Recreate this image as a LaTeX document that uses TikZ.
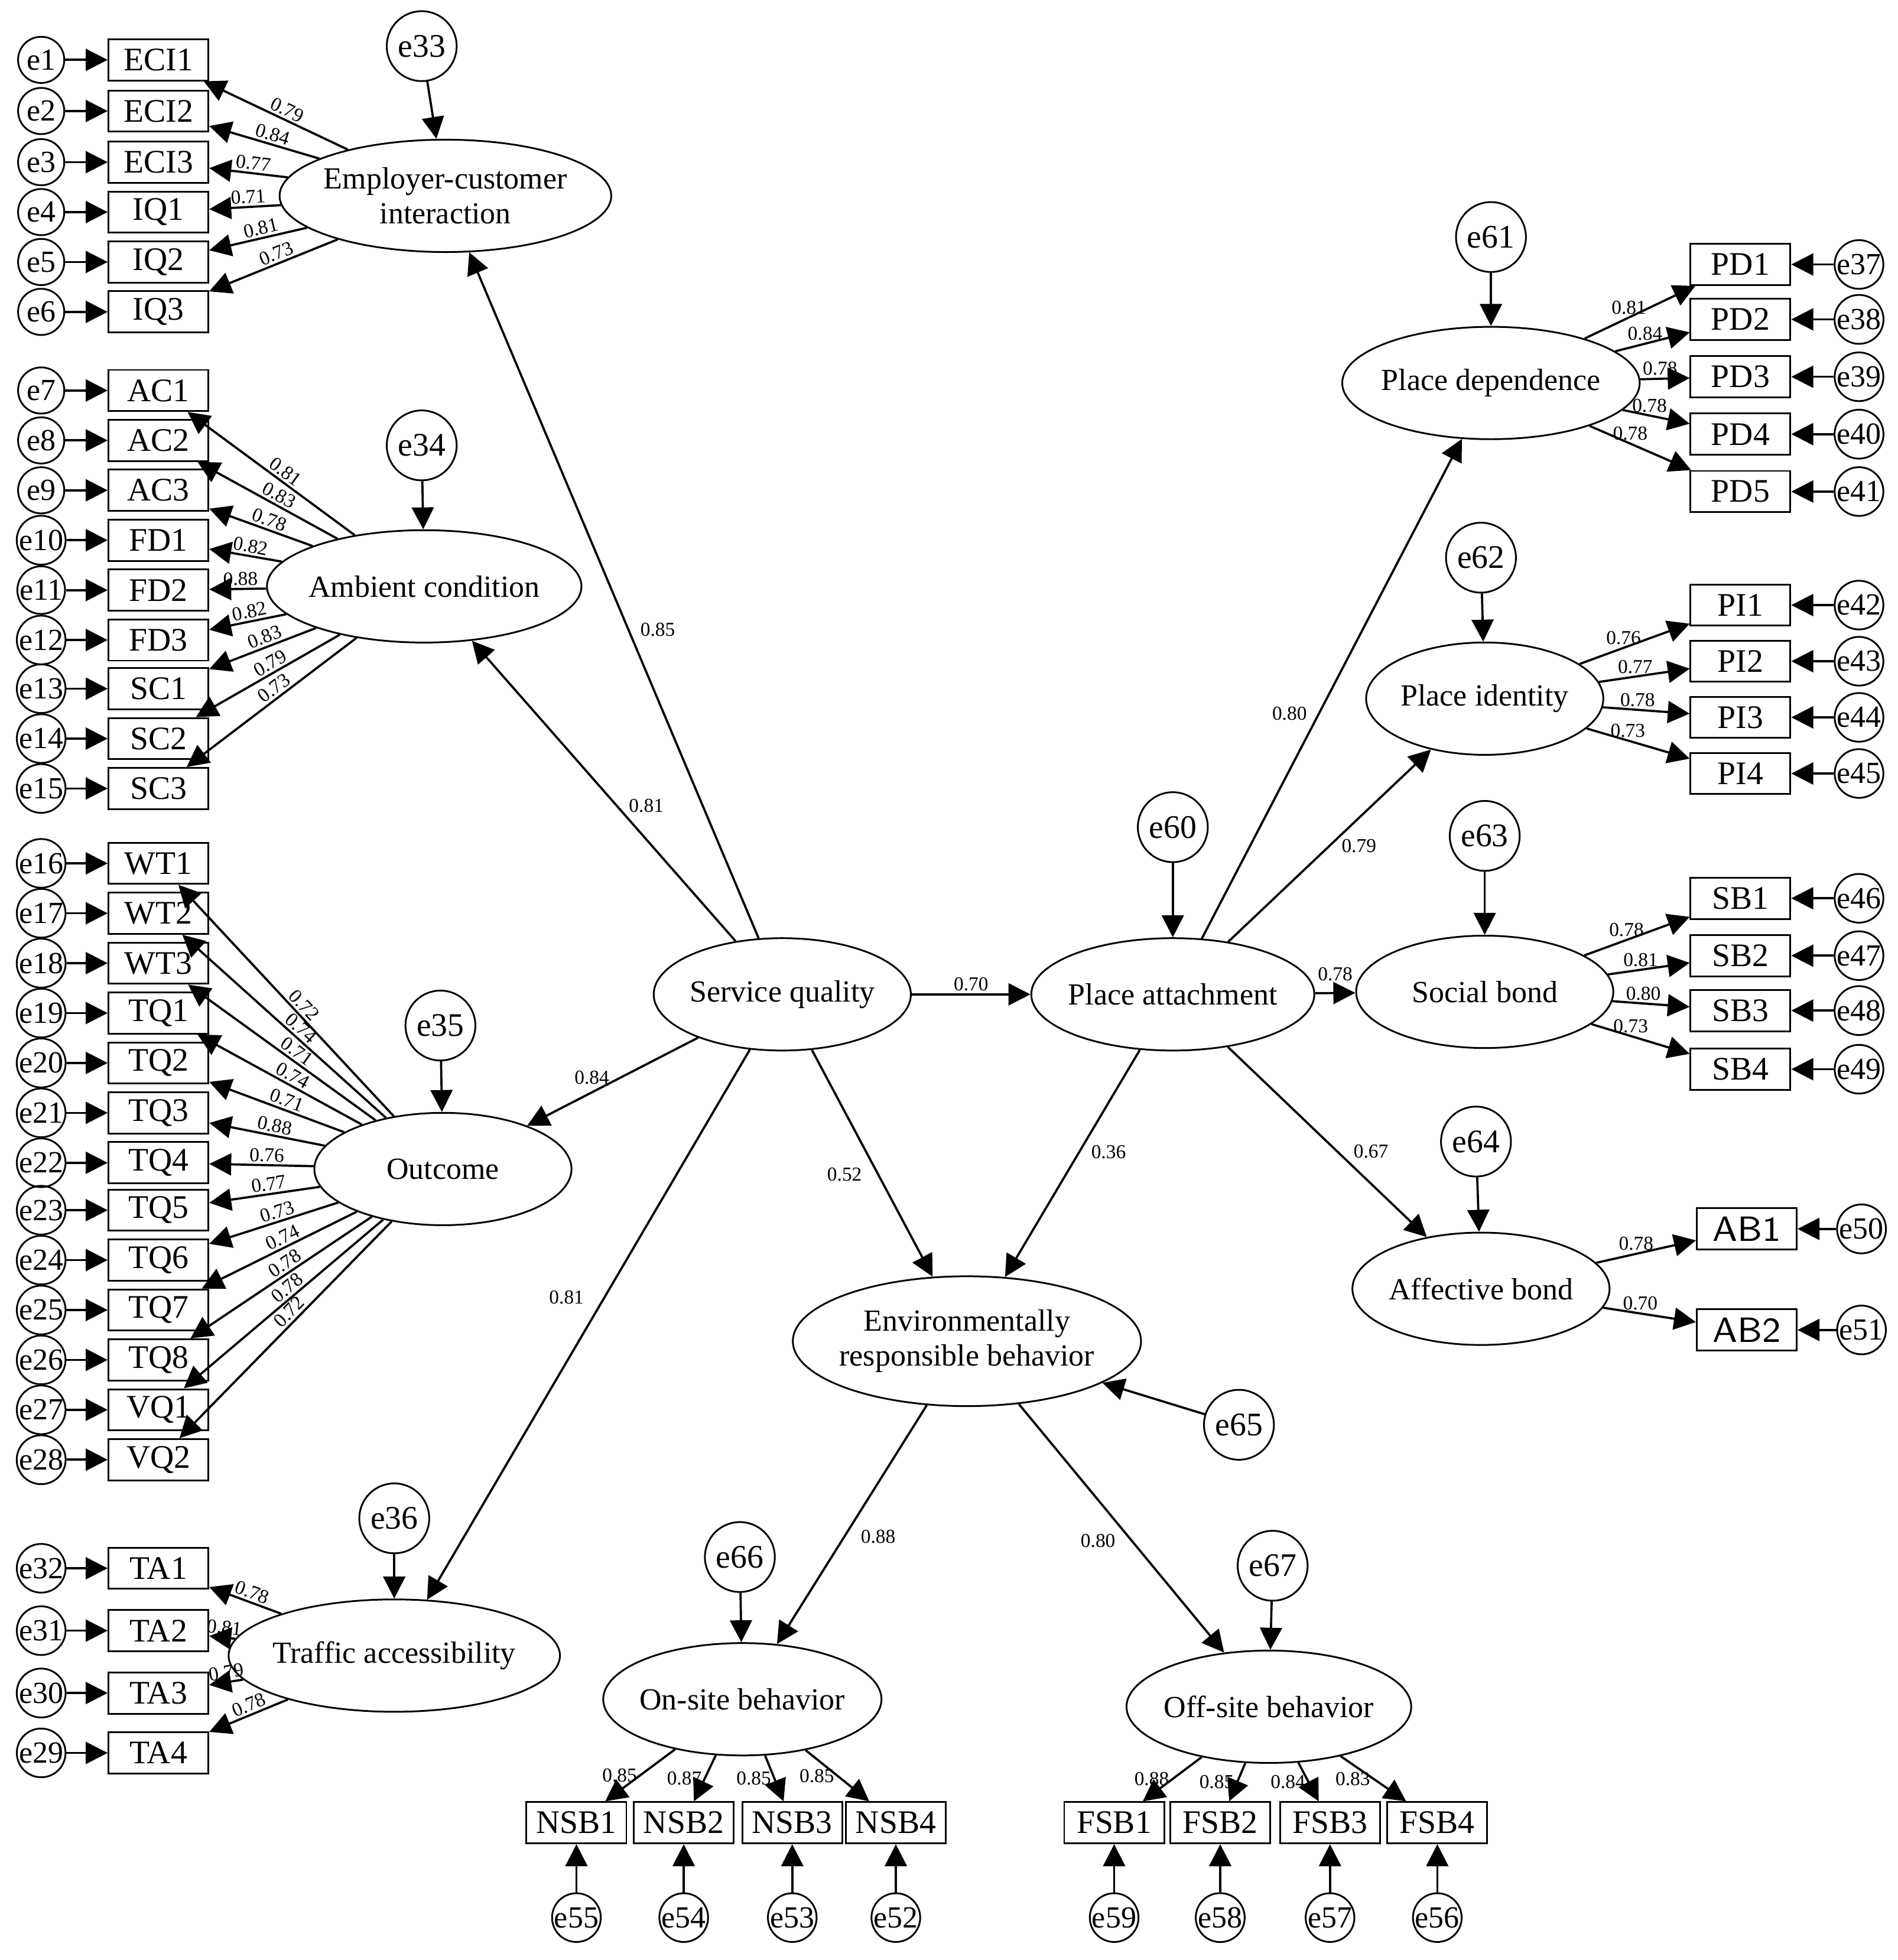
\documentclass[tikz,border=0pt]{standalone}
\usepackage{fontspec}
\setmainfont{Liberation Serif}
\usetikzlibrary{shapes.geometric,arrows.meta}
\tikzset{
  lat/.style={draw,ellipse,minimum width=2.06cm,minimum height=0.9cm,inner sep=-1pt,font=\fontsize{7}{8}\selectfont,align=center},
  ind/.style={draw,rectangle,minimum width=0.8cm,minimum height=0.33cm,inner sep=1pt,font=\fontsize{7.5}{8}\selectfont},
  err/.style={draw,circle,minimum size=0.37cm,inner sep=0pt,font=\fontsize{7}{8}\selectfont},
  dist/.style={draw,circle,minimum size=0.56cm,inner sep=0pt,font=\fontsize{7.5}{8}\selectfont},
  path/.style={-{Triangle[length=5pt,width=5pt]},line width=0.5pt},
  ld/.style={font=\fontsize{4.5}{5}\selectfont,inner sep=0.5pt}
}
\begin{document}
\begin{tikzpicture}[x=0.01cm,y=-0.01cm]
  \useasboundingbox (0,0) rectangle (1521,1571);

  % latent variables
  \node[lat,minimum width=2.2cm] (eci) at (357,157) {Employer-customer\\interaction};
  \node[lat] (ac) at (340,470) {Ambient condition};
  \node[lat] (out) at (355,937) {Outcome};
  \node[lat] (ta) at (316,1327) {Traffic accessibility};
  \node[lat] (sq) at (627,797) {Service quality};
  \node[lat] (pa) at (940,797) {Place attachment};
  \node[lat] (pd) at (1195,307) {Place dependence};
  \node[lat,minimum width=1.9cm] (pi) at (1190,560) {Place identity};
  \node[lat] (sb) at (1190,795) {Social bond};
  \node[lat] (ab) at (1187,1033) {Affective bond};
  \node[lat,minimum width=2.4cm,minimum height=1.04cm] (erb) at (775,1075) {Environmentally\\responsible behavior};
  \node[lat] (on) at (595,1362) {On-site behavior};
  \node[lat] (off) at (1017,1368) {Off-site behavior};

  % disturbances
  \foreach \n/\x/\y/\t in {e33/338/37/eci,e34/338/357/ac,e35/353/822/out,e36/316/1217/ta,
      e60/940/663/pa,e61/1195/190/pd,e62/1187/447/pi,e63/1190/670/sb,e64/1183/915/ab,
      e66/593/1248/on,e67/1020/1255/off}
  {
    \node[dist] (\n) at (\x,\y) {\n};
    \draw[path] (\n) -- (\t);
  }
  \node[dist] (e65) at (993,1142) {e65};
  \draw[path] (e65) -- (erb);

  % left indicators
  \foreach \lab/\e/\y/\l/\f in {ECI1/e1/48/0.79/eci,ECI2/e2/89/0.84/eci,ECI3/e3/130/0.77/eci,
      IQ1/e4/170/0.71/eci,IQ2/e5/210/0.81/eci,IQ3/e6/250/0.73/eci,
      AC1/e7/313/0.81/ac,AC2/e8/353/0.83/ac,AC3/e9/393/0.78/ac,FD1/e10/433/0.82/ac,
      FD2/e11/473/0.88/ac,FD3/e12/513/0.82/ac,SC1/e13/552/0.83/ac,SC2/e14/592/0.79/ac,
      SC3/e15/632/0.73/ac,
      WT1/e16/692/0.72/out,WT2/e17/732/0.74/out,WT3/e18/772/0.71/out,TQ1/e19/812/0.74/out,
      TQ2/e20/852/0.71/out,TQ3/e21/892/0.88/out,TQ4/e22/932/0.76/out,TQ5/e23/970/0.77/out,
      TQ6/e24/1010/0.73/out,TQ7/e25/1050/0.74/out,TQ8/e26/1090/0.78/out,VQ1/e27/1130/0.78/out,
      VQ2/e28/1170/0.72/out,
      TA1/e32/1257/0.78/ta,TA2/e31/1307/0.81/ta,TA3/e30/1357/0.79/ta,TA4/e29/1405/0.78/ta}
  {
    \node[ind] (\lab) at (127,\y) {\lab};
    \node[err] (\e) at (33,\y) {\e};
    \draw[path] (\e) -- (\lab);
    \draw[path] (\f) -- node[ld,sloped,above,pos=0.45] {\l} (\lab);
  }

  % right indicators
  \foreach \lab/\e/\y/\l/\f in {PD1/e37/212/0.81/pd,PD2/e38/256/0.84/pd,PD3/e39/302/0.78/pd,
      PD4/e40/348/0.78/pd,PD5/e41/394/0.78/pd,
      PI1/e42/485/0.76/pi,PI2/e43/530/0.77/pi,PI3/e44/575/0.78/pi,PI4/e45/620/0.73/pi,
      SB1/e46/720/0.78/sb,SB2/e47/766/0.81/sb,SB3/e48/810/0.80/sb,SB4/e49/857/0.73/sb}
  {
    \node[ind] (\lab) at (1395,\y) {\lab};
    \node[err] (\e) at (1490,\y) {\e};
    \draw[path] (\e) -- (\lab);
    \draw[path] (\f) -- node[ld,above,pos=0.4] {\l} (\lab);
  }
  \foreach \lab/\e/\y/\l in {AB1/e50/985/0.78,AB2/e51/1066/0.70}
  {
    \node[ind,font=\sffamily\fontsize{8}{9}\selectfont] (\lab) at (1400,\y) {\lab};
    \node[err] (\e) at (1492,\y) {\e};
    \draw[path] (\e) -- (\lab);
    \draw[path] (ab) -- node[ld,above,pos=0.4] {\l} (\lab);
  }

  % bottom indicators
  \foreach \lab/\e/\x/\l/\f in {NSB1/e55/462/0.85/on,NSB2/e54/548/0.87/on,NSB3/e53/635/0.85/on,
      NSB4/e52/718/0.85/on,
      FSB1/e59/893/0.88/off,FSB2/e58/978/0.85/off,FSB3/e57/1066/0.84/off,FSB4/e56/1152/0.83/off}
  {
    \node[ind] (\lab) at (\x,1461) {\lab};
    \node[err] (\e) at (\x,1537) {\e};
    \draw[path] (\e) -- (\lab);
    \draw[path] (\f) -- node[ld,left,pos=0.5] {\l} (\lab);
  }

  % structural paths
  \draw[path] (sq) -- node[ld,pos=0.45,right=2pt] {0.85} (eci);
  \draw[path] (sq) -- node[ld,pos=0.45,right=2pt] {0.81} (ac);
  \draw[path] (sq) -- node[ld,pos=0.45,left=2pt] {0.84} (out);
  \draw[path] (sq) -- node[ld,pos=0.45,left=4pt] {0.81} (ta);
  \draw[path] (sq) -- node[ld,above] {0.70} (pa);
  \draw[path] (sq) -- node[ld,pos=0.55,left=3pt] {0.52} (erb);
  \draw[path] (pa) -- node[ld,pos=0.45,right=2pt] {0.36} (erb);
  \draw[path] (pa) -- node[ld,pos=0.45,left=2pt] {0.80} (pd);
  \draw[path] (pa) -- node[ld,pos=0.5,right=2pt] {0.79} (pi);
  \draw[path] (pa) -- node[ld,above=2pt] {0.78} (sb);
  \draw[path] (pa) -- node[ld,pos=0.55,right=3pt] {0.67} (ab);
  \draw[path] (erb) -- node[ld,pos=0.55,right=3pt] {0.88} (on);
  \draw[path] (erb) -- node[ld,pos=0.55,left=3pt] {0.80} (off);
\end{tikzpicture}
\end{document}
